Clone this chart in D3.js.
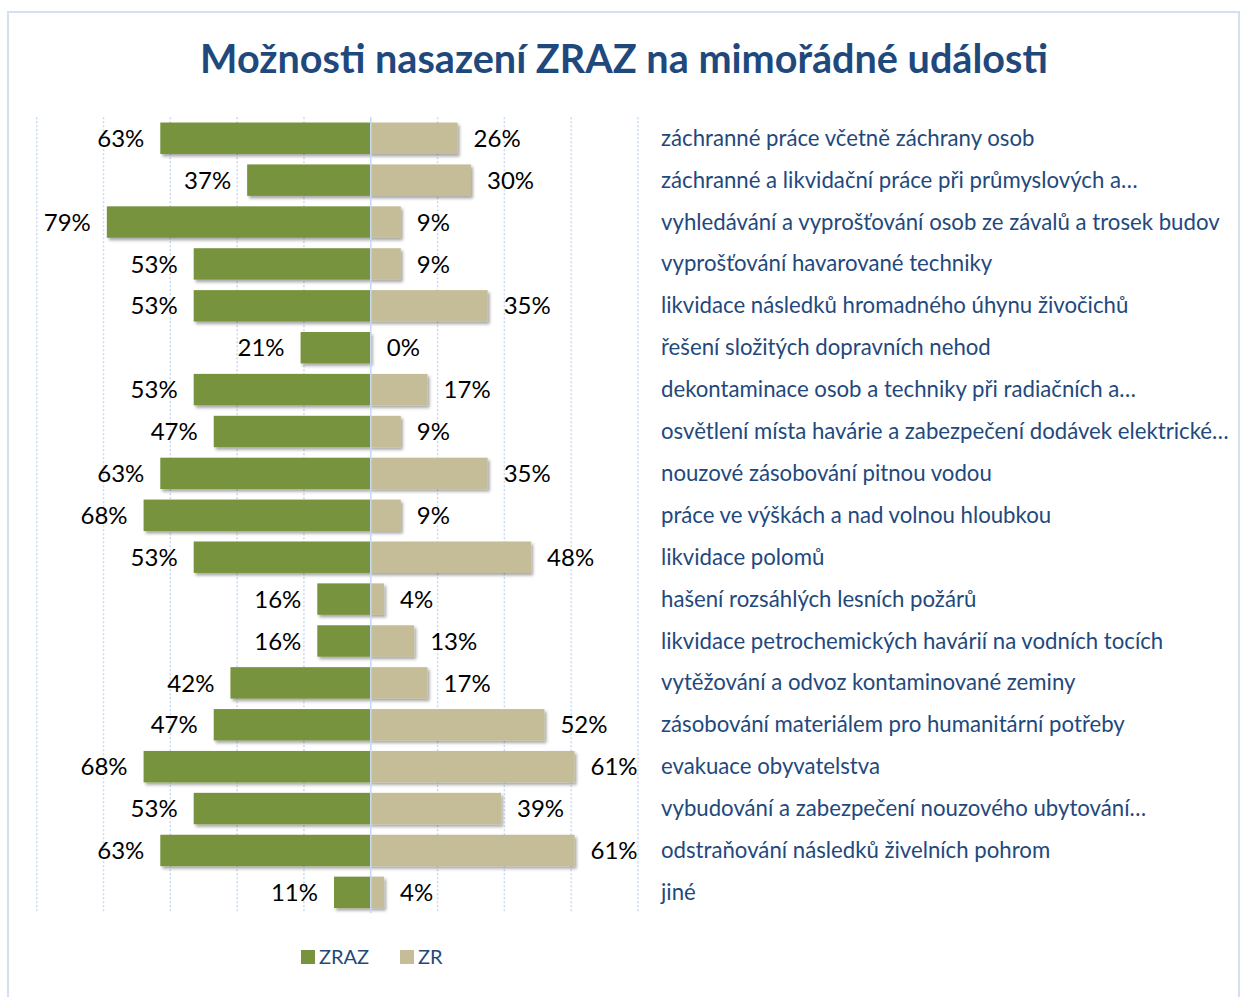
<!DOCTYPE html>
<html>
<head>
<meta charset="utf-8">
<script src="https://cdn.jsdelivr.net/npm/d3@7"></script>
<style>
  body { margin: 0; background: #fff; }
  svg { display: block; }
</style>
</head>
<body>
<svg id="chart" width="1248" height="997"></svg>
<script>
// data
var categories = [
  "záchranné práce včetně záchrany osob",
  "záchranné a likvidační práce při průmyslových a…",
  "vyhledávání a vyprošťování osob ze závalů a trosek budov",
  "vyprošťování havarované techniky",
  "likvidace následků hromadného úhynu živočichů",
  "řešení složitých dopravních nehod",
  "dekontaminace osob a techniky při radiačních a…",
  "osvětlení místa havárie a zabezpečení dodávek elektrické…",
  "nouzové zásobování pitnou vodou",
  "práce ve výškách a nad volnou hloubkou",
  "likvidace polomů",
  "hašení rozsáhlých lesních požárů",
  "likvidace petrochemických havárií na vodních tocích",
  "vytěžování a odvoz kontaminované zeminy",
  "zásobování materiálem pro humanitární potřeby",
  "evakuace obyvatelstva",
  "vybudování a zabezpečení nouzového ubytování…",
  "odstraňování následků živelních pohrom",
  "jiné"
];
var zraz = [63, 37, 79, 53, 53, 21, 53, 47, 63, 68, 53, 16, 16, 42, 47, 68, 53, 63, 11];
var zr   = [26, 30, 9, 9, 35, 0, 17, 9, 35, 9, 48, 4, 13, 17, 52, 61, 39, 61, 4];
var seriesNames = ["ZRAZ", "ZR"];
var gridTicks = [-100, -80, -60, -40, -20, 20, 40, 60, 80];

var title = "Možnosti nasazení ZRAZ na mimořádné události";

var rows = categories.map(function(c, i) { return {cat: c, zraz: zraz[i], zr: zr[i]}; });

var svg = d3.select("#chart"),
    margin = {top: 117.3, right: 610, bottom: 83.7, left: 36.7},
    width = +svg.attr("width") - margin.left - margin.right,
    height = +svg.attr("height") - margin.top - margin.bottom;

var colors = {ZRAZ: "#77933C", ZR: "#C4BD97"};
var textBlue = "#1F497D";
var font = "Lato, 'Open Sans', sans-serif";

// shadow under the bars
var defs = svg.append("defs");
defs.append("filter")
    .attr("id", "shadow")
    .attr("x", "-10%").attr("y", "-20%").attr("width", "130%").attr("height", "160%")
  .append("feDropShadow")
    .attr("dx", 2).attr("dy", 2.5).attr("stdDeviation", 1.6)
    .attr("flood-color", "#000").attr("flood-opacity", 0.35);

// frame
svg.append("rect")
    .attr("x", 8).attr("y", 12)
    .attr("width", 1231).attr("height", 1000)
    .attr("fill", "#fff")
    .attr("stroke", "#D3E0F1")
    .attr("stroke-width", 2);

svg.append("text")
    .attr("x", 624)
    .attr("y", 73)
    .attr("text-anchor", "middle")
    .attr("fill", textBlue)
    .style("font-family", font)
    .style("font-weight", "bold")
    .style("font-size", "39.6px")
    .text(title);

var g = svg.append("g").attr("transform", "translate(" + margin.left + "," + margin.top + ")");

var x = d3.scaleLinear()
    .domain([-100, 80])
    .range([0, width]);

var y = d3.scaleBand()
    .domain(categories)
    .range([0, height])
    .paddingInner(0.25)
    .paddingOuter(0.125);

// dotted grid
g.selectAll(".grid")
  .data(gridTicks)
  .enter().append("line")
    .attr("class", "grid")
    .attr("x1", function(d) { return x(d); })
    .attr("x2", function(d) { return x(d); })
    .attr("y1", 0)
    .attr("y2", height)
    .attr("stroke", "#C6D9F1")
    .attr("stroke-width", 1.5)
    .attr("stroke-dasharray", "2,2");

// bars
var bars = g.append("g").attr("filter", "url(#shadow)");

bars.selectAll(".bar-zraz")
  .data(rows)
  .enter().append("rect")
    .attr("class", "bar-zraz")
    .attr("x", function(d) { return x(-d.zraz); })
    .attr("y", function(d) { return y(d.cat); })
    .attr("width", function(d) { return x(0) - x(-d.zraz); })
    .attr("height", y.bandwidth())
    .attr("fill", colors.ZRAZ);

bars.selectAll(".bar-zr")
  .data(rows.filter(function(d) { return d.zr > 0; }))
  .enter().append("rect")
    .attr("class", "bar-zr")
    .attr("x", x(0))
    .attr("y", function(d) { return y(d.cat); })
    .attr("width", function(d) { return x(d.zr) - x(0); })
    .attr("height", y.bandwidth())
    .attr("fill", colors.ZR);

// center axis
g.append("line")
    .attr("x1", x(0)).attr("x2", x(0))
    .attr("y1", 0).attr("y2", height)
    .attr("stroke", "#C6D9F1")
    .attr("stroke-width", 1.5);

// value labels
g.selectAll(".lbl-zraz")
  .data(rows)
  .enter().append("text")
    .attr("class", "lbl-zraz")
    .attr("x", function(d) { return x(-d.zraz) - 16; })
    .attr("y", function(d) { return y(d.cat) + y.bandwidth() / 2; })
    .attr("dy", "0.36em")
    .attr("text-anchor", "end")
    .style("font-family", font)
    .style("font-size", "24px")
    .attr("fill", "#000")
    .text(function(d) { return d.zraz + "%"; });

g.selectAll(".lbl-zr")
  .data(rows)
  .enter().append("text")
    .attr("class", "lbl-zr")
    .attr("x", function(d) { return x(d.zr) + 16; })
    .attr("y", function(d) { return y(d.cat) + y.bandwidth() / 2; })
    .attr("dy", "0.36em")
    .attr("text-anchor", "start")
    .style("font-family", font)
    .style("font-size", "24px")
    .attr("fill", "#000")
    .text(function(d) { return d.zr + "%"; });

// category labels on the right
var catAxis = g.append("g")
    .attr("transform", "translate(" + width + ",0)")
    .call(d3.axisRight(y).tickSize(0).tickPadding(23));

catAxis.select(".domain").remove();
catAxis.selectAll("text")
    .attr("dy", "0.34em")
    .attr("fill", textBlue)
    .style("font-family", font)
    .style("font-size", "22.2px");

// legend
var legend = svg.append("g")
    .attr("transform", "translate(301,950)");

var item = legend.selectAll(".item")
  .data(seriesNames)
  .enter().append("g")
    .attr("class", "item")
    .attr("transform", function(d, i) { return "translate(" + (i * 99) + ",0)"; });

item.append("rect")
    .attr("width", 14)
    .attr("height", 14)
    .attr("fill", function(d) { return colors[d]; });

item.append("text")
    .attr("x", 18)
    .attr("y", 14)
    .attr("fill", textBlue)
    .style("font-family", font)
    .style("font-size", "20px")
    .text(function(d) { return d; });
</script>
</body>
</html>
